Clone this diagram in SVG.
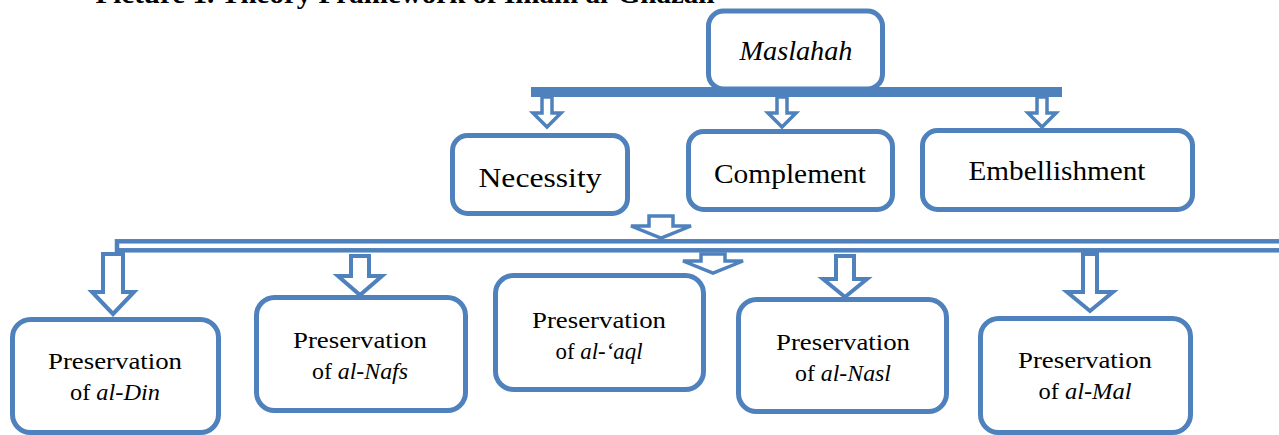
<svg xmlns="http://www.w3.org/2000/svg" width="1279" height="435" viewBox="0 0 1279 435">
<style>
.box{fill:#fff;stroke:#4F81BD;stroke-width:5}
.arr{fill:#fff;stroke:#4F81BD;stroke-width:3.5;stroke-linejoin:miter}
.arr4{fill:#fff;stroke:#4F81BD;stroke-width:4;stroke-linejoin:miter}
.t{font-family:"Liberation Serif","Times New Roman",serif;fill:#000;text-anchor:middle}
.big{font-size:27px}
.sm{font-size:24px}
.i{font-style:italic}
</style>
<rect width="1279" height="435" fill="#fff"/>
<text class="t" x="405" y="3" font-size="27" font-weight="bold" textLength="619" lengthAdjust="spacingAndGlyphs">Picture 1. Theory Framework of Imam al-Ghazali</text>
<g id="connectors">
<rect x="531" y="87" width="531" height="10" fill="#4F81BD"/>
<polygon class="arr" points="542,97 552,97 552,113 561,113 547,127 533,113 542,113"/>
<polygon class="arr" points="777,97 787,97 787,113 796,113 782,127 768,113 777,113"/>
<polygon class="arr" points="1037,97 1047,97 1047,113 1056,113 1042,127 1028,113 1037,113"/>
<rect x="117" y="241.3" width="1200" height="9" fill="#fff" stroke="#4F81BD" stroke-width="4.5"/>
<polygon class="arr" points="649,216 673,216 673,226 691,226 661,238 631,226 649,226"/>
<polygon class="arr" points="701,254 725,254 725,261 743,261 713,273 683,261 701,261"/>
<polygon class="arr4" points="103,254 123,254 123,292 134,292 113,314 92,292 103,292"/>
<polygon class="arr4" points="351,256 369,256 369,276 382,276 360,295 338,276 351,276"/>
<polygon class="arr4" points="836,256 854,256 854,279 867,279 845,297 823,279 836,279"/>
<polygon class="arr4" points="1083,254 1097,254 1097,292 1113,292 1090,311 1067,292 1083,292"/>
</g>
<g id="maslahah">
<rect class="box" x="708.5" y="11" width="174" height="78" rx="15"/>
<text class="t big i" x="796" y="60" textLength="113" lengthAdjust="spacingAndGlyphs">Maslahah</text>
</g>
<g id="necessity">
<rect class="box" x="452.5" y="135.5" width="175" height="78" rx="15"/>
<text class="t big" x="540" y="187" textLength="123" lengthAdjust="spacingAndGlyphs">Necessity</text>
</g>
<g id="complement">
<rect class="box" x="688.5" y="131.5" width="204" height="78" rx="15"/>
<text class="t big" x="790" y="183" textLength="152" lengthAdjust="spacingAndGlyphs">Complement</text>
</g>
<g id="embellishment">
<rect class="box" x="922.5" y="130.5" width="270" height="79" rx="15"/>
<text class="t big" x="1057" y="180" textLength="177" lengthAdjust="spacingAndGlyphs">Embellishment</text>
</g>
<g id="din">
<rect class="box" x="12.5" y="319.5" width="206" height="113" rx="18"/>
<text class="t sm" x="115" y="369" textLength="134" lengthAdjust="spacingAndGlyphs">Preservation</text>
<text class="t sm" x="115" y="400" textLength="90" lengthAdjust="spacingAndGlyphs">of <tspan class="i">al-Din</tspan></text>
</g>
<g id="nafs">
<rect class="box" x="256.5" y="297.5" width="209" height="113" rx="18"/>
<text class="t sm" x="360" y="348" textLength="134" lengthAdjust="spacingAndGlyphs">Preservation</text>
<text class="t sm" x="360" y="379" textLength="96" lengthAdjust="spacingAndGlyphs">of <tspan class="i">al-Nafs</tspan></text>
</g>
<g id="aql">
<rect class="box" x="495.5" y="275.5" width="208" height="114" rx="18"/>
<text class="t sm" x="599" y="328" textLength="134" lengthAdjust="spacingAndGlyphs">Preservation</text>
<text class="t sm" x="599" y="359" textLength="87" lengthAdjust="spacingAndGlyphs">of <tspan class="i">al-‘aql</tspan></text>
</g>
<g id="nasl">
<rect class="box" x="738.5" y="299.5" width="208" height="112" rx="18"/>
<text class="t sm" x="843" y="350" textLength="134" lengthAdjust="spacingAndGlyphs">Preservation</text>
<text class="t sm" x="843" y="381" textLength="96" lengthAdjust="spacingAndGlyphs">of <tspan class="i">al-Nasl</tspan></text>
</g>
<g id="mal">
<rect class="box" x="980.5" y="318.5" width="210" height="114" rx="18"/>
<text class="t sm" x="1085" y="368" textLength="134" lengthAdjust="spacingAndGlyphs">Preservation</text>
<text class="t sm" x="1085" y="399" textLength="93" lengthAdjust="spacingAndGlyphs">of <tspan class="i">al-Mal</tspan></text>
</g>
</svg>
